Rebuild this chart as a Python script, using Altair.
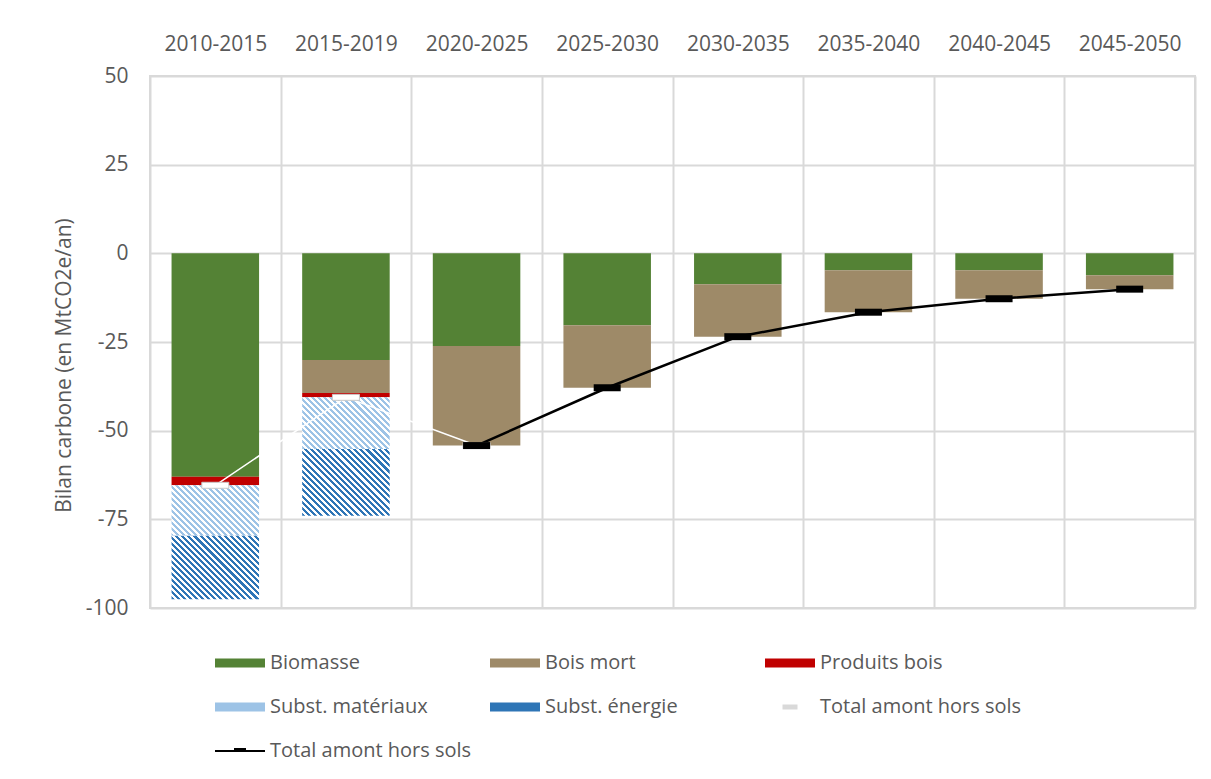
import altair as alt
import pandas as pd

periods = ["2010-2015", "2015-2019", "2020-2025", "2025-2030",
           "2030-2035", "2035-2040", "2040-2045", "2045-2050"]

biomasse = [-63.0, -30.1, -26.1, -20.3, -8.7, -4.8, -4.8, -6.2]
bois_mort = [0.0, -9.3, -28.1, -17.6, -14.8, -11.8, -8.0, -3.9]
produits_bois = [-2.4, -1.2, 0.0, 0.0, 0.0, 0.0, 0.0, 0.0]
subst_materiaux = [-14.2, -14.6, 0.0, 0.0, 0.0, 0.0, 0.0, 0.0]
subst_energie = [-17.9, -18.8, 0.0, 0.0, 0.0, 0.0, 0.0, 0.0]

total_amont_hist = [-65.4, -40.6, -54.2, None, None, None, None, None]
total_amont_proj = [None, None, -54.2, -37.9, -23.5, -16.6, -12.8, -10.1]

series_names = ["Biomasse", "Bois mort", "Produits bois",
                "Subst. matériaux", "Subst. énergie"]
series_values = [biomasse, bois_mort, produits_bois, subst_materiaux, subst_energie]
series_colors = ["#548235", "#9E8A68", "#C00000", "#9DC3E6", "#2E75B6"]
hatched = [False, False, False, True, True]

legend_labels = ["Biomasse", "Bois mort", "Produits bois",
                 "Subst. matériaux", "Subst. énergie",
                 "Total amont hors sols", "Total amont hors sols "]
legend_colors = ["#548235", "#9E8A68", "#C00000", "#9DC3E6", "#2E75B6",
                 "#D9D9D9", "#000000"]

GRID = "#D9D9D9"
TXT = "#595959"
FONT = "Open Sans"

W, H = 1045, 532
Y_MIN, Y_MAX = -100, 50
BAR_FRAC = 0.67


def stripes(color, value, period=4.3, frac=0.5):
    # diagonal hatch ("\" stripes at 45 deg) built as a hard-stop linear gradient
    w = BAR_FRAC * W / len(periods)
    h = abs(value) * H / (Y_MAX - Y_MIN)
    k = (w + h) / (w * w + h * h)
    n = max(1, round((w + h) / (2 ** 0.5 * period)))
    stops = []
    for j in range(n):
        a = j / n
        b = (j + frac) / n
        c = (j + 1) / n
        stops += [{"offset": a, "color": color}, {"offset": b, "color": color},
                  {"offset": b, "color": "#FFFFFF"}, {"offset": c, "color": "#FFFFFF"}]
    return {"gradient": "linear", "x1": 0, "y1": 1, "x2": k * w, "y2": 1 - k * h,
            "stops": stops}


rows = []
for i, (name, vals) in enumerate(zip(series_names, series_values)):
    for p, v in zip(periods, vals):
        rows.append({"period": p, "serie": name, "idx": i, "value": v})
bars_df = pd.DataFrame(rows)

conditions = []
for i, (vals, col, hat) in enumerate(zip(series_values, series_colors, hatched)):
    if i == 0:
        continue
    if hat:
        for p, v in zip(periods, vals):
            if v != 0:
                conditions.append({"test": f"datum.idx === {i} && datum.period === '{p}'",
                                   "value": stripes(col, v)})
    else:
        conditions.append({"test": f"datum.idx === {i}", "value": col})
color_def = {"condition": conditions, "value": series_colors[0]}

lines_df = pd.DataFrame({"period": periods, "hist": total_amont_hist, "proj": total_amont_proj})
legend_df = pd.DataFrame({"lab": legend_labels})

x_enc = alt.X("period:N", sort=periods, title=None,
              scale=alt.Scale(domain=periods, paddingInner=0, paddingOuter=0),
              axis=alt.Axis(orient="top", tickBand="extent", grid=True, gridColor=GRID,
                            gridWidth=2, domain=False, ticks=False, tickSize=0,
                            labelPadding=22, labelAngle=0, labelFontSize=21,
                            labelColor=TXT, labelFont=FONT))

YTITLE = "Bilan carbone (en MtCO2e/an)"
y_scale = alt.Scale(domain=[Y_MIN, Y_MAX], nice=False, zero=False)
y_axis = alt.Axis(values=[-100, -75, -50, -25, 0, 25, 50], grid=True, gridColor=GRID,
                  gridWidth=2, domain=False, ticks=False, tickSize=0, labelPadding=22,
                  labelExpr="toString(datum.value)",
                  labelFontSize=21, labelColor=TXT, labelFont=FONT,
                  titleFontSize=21, titleFontWeight="normal", titleColor=TXT,
                  titleFont=FONT, titleX=-76, titleY=289, titleAngle=-90,
                  titleBaseline="bottom", titleAlign="center")

bars = alt.Chart(bars_df).mark_bar(width=alt.RelativeBandSize(BAR_FRAC), strokeWidth=0).encode(
    x=x_enc,
    y=alt.Y("value:Q", stack="zero", scale=y_scale, axis=y_axis, title=YTITLE),
    order=alt.Order("idx:Q", sort="ascending"),
    color=color_def,
)

white_line = alt.Chart(lines_df).mark_line(color="#FFFFFF", strokeWidth=1.5).encode(
    x=x_enc, y=alt.Y("hist:Q", scale=y_scale, axis=y_axis, title=YTITLE))
black_line = alt.Chart(lines_df).mark_line(color="#000000", strokeWidth=2.5).encode(
    x=x_enc, y=alt.Y("proj:Q", scale=y_scale, axis=y_axis, title=YTITLE))
white_ticks = alt.Chart(lines_df).mark_tick(
    color="#FFFFFF", stroke="#C8C8C8", strokeWidth=1, size=27, thickness=6, opacity=1,
    filled=True).encode(
    x=x_enc, y=alt.Y("hist:Q", scale=y_scale, axis=y_axis, title=YTITLE))
black_ticks = alt.Chart(lines_df).mark_tick(
    color="#000000", size=27, thickness=7, opacity=1, filled=True).encode(
    x=x_enc, y=alt.Y("proj:Q", scale=y_scale, axis=y_axis, title=YTITLE))

bar_shape = "M-1,-0.18L1,-0.18L1,0.18L-1,0.18Z"
legend_shapes = [bar_shape, bar_shape, bar_shape, bar_shape, bar_shape,
                 "M-0.3,-0.1L0.3,-0.1L0.3,0.1L-0.3,0.1Z",
                 "M-1,-0.04L1,-0.04L1,0.04L-1,0.04Z M-0.24,-0.12L0.24,-0.12L0.24,0.04L-0.24,0.04Z"]

legend_layer = alt.Chart(legend_df).transform_filter("datum.lab === 'none'").mark_point(
    filled=True, opacity=1).encode(
    x=x_enc,
    y=alt.Y("lab:Q", scale=y_scale, axis=y_axis, title=YTITLE),
    color=alt.Color("lab:N", scale=alt.Scale(domain=legend_labels, range=legend_colors),
                    legend=alt.Legend(title=None)),
    shape=alt.Shape("lab:N", scale=alt.Scale(domain=legend_labels, range=legend_shapes),
                    legend=alt.Legend(title=None)),
)

chart = alt.layer(bars, white_line, black_line, white_ticks, black_ticks, legend_layer).properties(
    width=W, height=H,
    autosize=alt.AutoSizeParams(type="none"),
    padding={"left": 142, "top": 68, "right": 4, "bottom": 160},
).configure(font=FONT).configure_view(stroke=GRID, strokeWidth=2).configure_legend(
    orient="none", legendX=65, legendY=562, columns=3, gridAlign="all",
    direction="horizontal",
    columnPadding=18, rowPadding=9, labelFontSize=20, labelColor=TXT, labelFont=FONT,
    symbolSize=2500, symbolStrokeWidth=0, labelOffset=5, labelLimit=400, padding=0,
    symbolOpacity=1,
)

chart.save("out.html", embed_options={"renderer": "svg", "actions": False})
